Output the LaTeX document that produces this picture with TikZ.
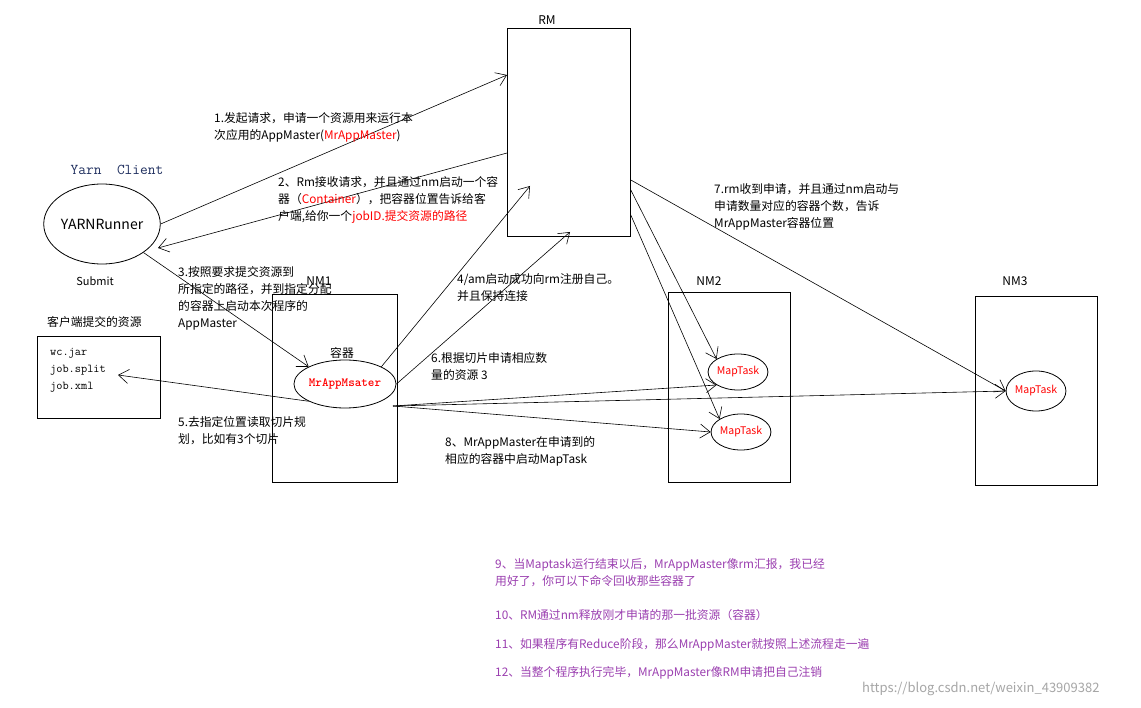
\documentclass[tikz,border=0pt]{standalone}
\usepackage{fontspec}
\setmainfont{Noto Sans CJK SC}
\usetikzlibrary{arrows.meta}
\definecolor{pur}{HTML}{9B3FB0}
\definecolor{yc}{HTML}{1F2F5F}
\tikzset{
 txt/.style={anchor=north west,align=left,inner sep=0pt,font=\fontsize{11.8}{17}\selectfont},
 ln/.style={draw,line width=0.6pt},
 arr/.style={ln,-{Straight Barb[length=10pt,width=14pt]}},
 box/.style={draw,line width=0.8pt},
 ell/.style={draw,ellipse,line width=0.8pt},
 pt/.style={txt,text=pur}
}
\newcommand{\rd}[1]{\textcolor{red}{#1}}
\usetikzlibrary{shapes.geometric}
\begin{document}
\begin{tikzpicture}[x=1pt,y=-1pt]
\useasboundingbox[fill=white] (0,0) rectangle (1141,708);
% boxes
\node[box,minimum width=123pt,minimum height=208pt,anchor=north west] (rm) at (507,28) {};
\node[font=\fontsize{12}{14}\selectfont] (rml) at (547,20) {RM};
\node[box,minimum width=125pt,minimum height=188pt,anchor=north west] (nm1) at (272,294) {};
\node[font=\fontsize{12}{14}\selectfont] (nm1l) at (319,281) {NM1};
\node[box,minimum width=122pt,minimum height=190pt,anchor=north west] (nm2) at (668,292) {};
\node[font=\fontsize{12}{14}\selectfont] (nm2l) at (709,281) {NM2};
\node[box,minimum width=122pt,minimum height=189pt,anchor=north west] (nm3) at (975,296) {};
\node[font=\fontsize{12}{14}\selectfont] (nm3l) at (1015,281) {NM3};
\node[box,minimum width=123pt,minimum height=82pt,anchor=north west] (res) at (37,336) {};
\node[txt] (resl) at (47,316) {客户端提交的资源};
\node[txt,font=\ttfamily\fontsize{12}{17}\selectfont] (files) at (50,348) {wc.jar\\job.split\\job.xml};
\coordinate (split) at (118,375);
% client
\node[font=\ttfamily\fontsize{15}{17}\selectfont,text=yc] (yc) at (117,170) {Yarn\ \ Client};
\node[ell,minimum width=94pt,minimum height=80pt,inner sep=0pt,font=\fontsize{14}{16}\selectfont] (yr) at (102,224) {YARNRunner};
\node[font=\fontsize{11}{13}\selectfont] (sub) at (95,281) {Submit};
% containers
\node[txt] (rq) at (330,347) {容器};
\node[ell,minimum width=84pt,minimum height=48pt,inner sep=0pt,text=red,font=\ttfamily\fontsize{12.5}{13}\selectfont\bfseries] (am) at (345,384) {MrAppMsater};
\node[ell,minimum width=58pt,minimum height=36pt,inner sep=0pt,text=red,font=\fontsize{10.5}{12}\selectfont] (mt1) at (738,372) {MapTask};
\node[ell,minimum width=58pt,minimum height=36pt,inner sep=0pt,text=red,font=\fontsize{10.5}{12}\selectfont] (mt2) at (741,432) {MapTask};
\node[ell,minimum width=58pt,minimum height=40pt,inner sep=0pt,text=red,font=\fontsize{10.5}{12}\selectfont] (mt3) at (1036,391) {MapTask};
% connectors
\draw[arr] (yr.east) -- (rm.west |- 0,75);
\draw[arr] (rm.west |- 0,153) -- (158,248);
\draw[arr] (yr.south east) -- (am.north west);
\draw[arr] (am.south west) -- (split);
\draw[arr] (am.north east) -- (530,186);
\draw[arr] (am.east) -- (570,232);
\draw[arr] (rm.east |- 0,190) -- (mt1.north west);
\draw[arr] (rm.east |- 0,215) -- (mt2.north west);
\draw[arr] (rm.east |- 0,180) -- (mt3.west);
\draw[arr] (393,406) -- (mt1.south west);
\draw[arr] (393,406) -- (mt3.west);
\draw[arr] (393,406) -- (mt2.west);
% texts
\node[txt] (t1) at (214,112) {1.发起请求，申请一个资源用来运行本\\次应用的AppMaster(\rd{MrAppMaster})};
\node[txt] (t2) at (278,176) {2、Rm接收请求，并且通过nm启动一个容\\器（\rd{Container}），把容器位置告诉给客\\户端,给你一个\rd{jobID.提交资源的路径}};
\node[txt] (t3) at (178,266) {3.按照要求提交资源到\\所指定的路径，并到指定分配\\的容器上启动本次程序的\\AppMaster};
\node[txt] (t4) at (457,273) {4/am启动成功向rm注册自己。\\并且保持连接};
\node[txt] (t5) at (178,416) {5.去指定位置读取切片规\\划，比如有3个切片};
\node[txt] (t6) at (431,352) {6.根据切片申请相应数\\量的资源 3};
\node[txt] (t7) at (714,183) {7.rm收到申请，并且通过nm启动与\\申请数量对应的容器个数，告诉\\MrAppMaster容器位置};
\node[txt] (t8) at (445,436) {8、MrAppMaster在申请到的\\相应的容器中启动MapTask};
\node[pt] (t9) at (495,558) {9、当Maptask运行结束以后，MrAppMaster像rm汇报，我已经\\用好了，你可以下命令回收那些容器了};
\node[pt] (t10) at (495,609) {10、RM通过nm释放刚才申请的那一批资源（容器）};
\node[pt] (t11) at (495,638) {11、如果程序有Reduce阶段，那么MrAppMaster就按照上述流程走一遍};
\node[pt] (t12) at (495,666) {12、当整个程序执行完毕，MrAppMaster像RM申请把自己注销};
\node[txt,text=black!35,font=\fontsize{13}{14}\selectfont] (wm) at (862,682) {https://blog.csdn.net/weixin\_43909382};
\end{tikzpicture}
\end{document}
